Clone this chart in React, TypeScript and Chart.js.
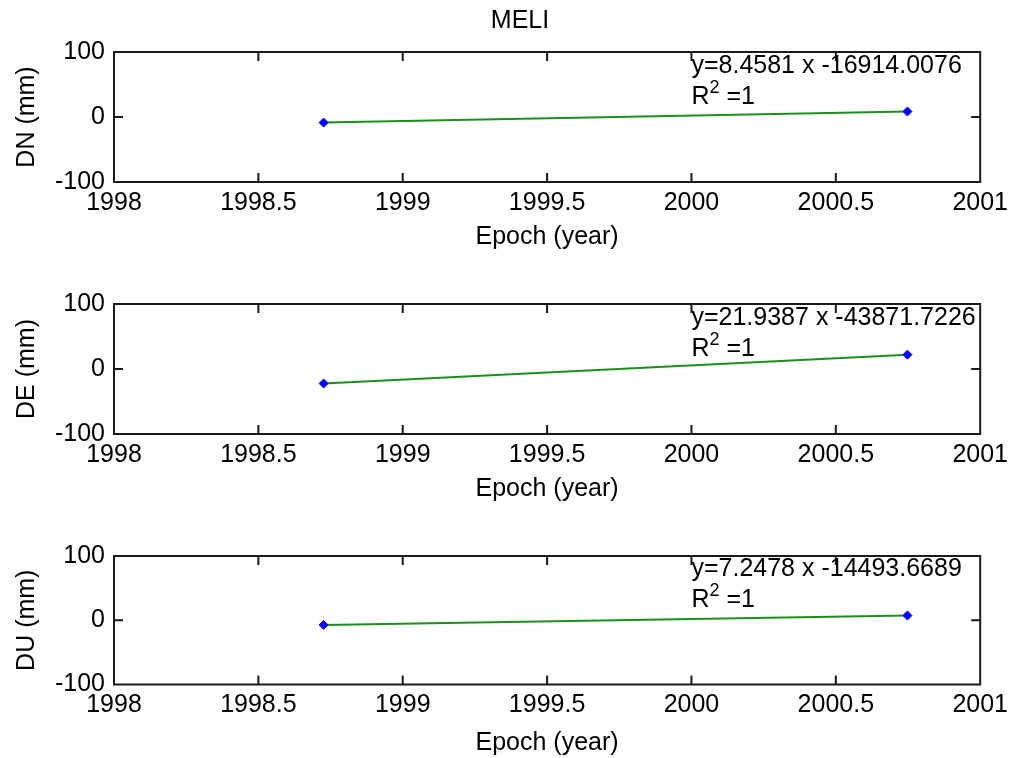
import React, { useEffect, useRef } from "react";
import { Chart, registerables } from "chart.js";

Chart.register(...registerables);

// ---- data ----
const figureTitle = "MELI";
const epochs = [1998.726, 2000.748];
const dnValues = [-8.6, 8.5];
const deValues = [-22.3, 22.1];
const duValues = [-7.3, 7.4];
const panelLabels = ["DN (mm)", "DE (mm)", "DU (mm)"];
const fitEquations = [
  "y=8.4581 x -16914.0076",
  "y=21.9387 x -43871.7226",
  "y=7.2478 x -14493.6689",
];
const rSquaredValues = ["1", "1", "1"];
const xTicks = [1998, 1998.5, 1999, 1999.5, 2000, 2000.5, 2001];
const xTickLabels = ["1998", "1998.5", "1999", "1999.5", "2000", "2000.5", "2001"];
const yTicks = [-100, 0, 100];
const yTickLabels = ["-100", "0", "100"];
const xAxisLabel = "Epoch (year)";

const panelValues = [dnValues, deValues, duValues];

// ---- layout / style ----
const W = 1014;
const FONT_FAMILY = '"Liberation Sans", Arial, Helvetica, sans-serif';
const FONT_SIZE = 25;
const GREEN = "#1a901a";
const BLUE = "#0000ff";
const AXIS_COLOR = "#1a1a1a";
const panels = [
  { top: 0, h: 252, plotTop: 52, plotBottom: 182 },
  { top: 252, h: 252, plotTop: 52, plotBottom: 182 },
  { top: 504, h: 254, plotTop: 52, plotBottom: 180.5 },
];
const PLOT_LEFT = 114;
const PLOT_RIGHT = 983;
const ANNOT_X = 2000;
const ANNOT_Y = 79;
const ANNOT_LINE_GAP = 31;

const axesPlugin = {
  id: "matlabAxes",
  afterDraw(chart: any, _args: any, opts: any) {
    const { ctx, chartArea: a, scales } = chart;
    const x = scales.x;
    const y = scales.y;
    ctx.save();
    ctx.strokeStyle = AXIS_COLOR;
    ctx.lineWidth = 2;
    ctx.strokeRect(a.left, a.top, a.right - a.left, a.bottom - a.top);
    const tl = 9;
    ctx.beginPath();
    xTicks.forEach((v) => {
      const px = x.getPixelForValue(v);
      if (px <= a.left + 1 || px >= a.right - 1) return;
      ctx.moveTo(px, a.bottom);
      ctx.lineTo(px, a.bottom - tl);
      ctx.moveTo(px, a.top);
      ctx.lineTo(px, a.top + tl);
    });
    yTicks.forEach((v) => {
      const py = y.getPixelForValue(v);
      if (py <= a.top + 1 || py >= a.bottom - 1) return;
      ctx.moveTo(a.left, py);
      ctx.lineTo(a.left + tl, py);
      ctx.moveTo(a.right, py);
      ctx.lineTo(a.right - tl, py);
    });
    ctx.stroke();

    // fit annotation
    const tx = x.getPixelForValue(ANNOT_X);
    const ty = y.getPixelForValue(ANNOT_Y);
    ctx.fillStyle = "#000";
    ctx.textAlign = "left";
    ctx.textBaseline = "middle";
    ctx.font = `${FONT_SIZE}px ${FONT_FAMILY}`;
    ctx.fillText(opts.equation, tx, ty);
    const y2 = ty + ANNOT_LINE_GAP;
    ctx.fillText("R", tx, y2);
    let cx = tx + ctx.measureText("R").width;
    ctx.font = `${Math.round(FONT_SIZE * 0.72)}px ${FONT_FAMILY}`;
    ctx.fillText("2", cx, y2 - 9);
    cx += ctx.measureText("2").width;
    ctx.font = `${FONT_SIZE}px ${FONT_FAMILY}`;
    ctx.fillText(" =" + opts.r2, cx, y2);

    if (opts.title) {
      ctx.textAlign = "center";
      ctx.fillText(opts.title, 520, 21);
    }
    ctx.restore();
  },
};

function Panel({ index }: { index: number }) {
  const ref = useRef<HTMLCanvasElement | null>(null);
  const p = panels[index];
  useEffect(() => {
    if (!ref.current) return;
    const vals = panelValues[index];
    const pts = epochs.map((e, i) => ({ x: e, y: vals[i] }));
    const font = { family: FONT_FAMILY, size: FONT_SIZE, lineHeight: 1.2 };
    const chart = new Chart(ref.current, {
      type: "scatter",
      data: {
        datasets: [
          {
            data: pts,
            showLine: true,
            borderColor: GREEN,
            borderWidth: 2,
            pointRadius: 0,
            order: 2,
          },
          {
            data: pts,
            showLine: false,
            pointRadius: 4.5,
            pointStyle: "rectRot",
            pointBackgroundColor: BLUE,
            pointBorderColor: BLUE,
            pointBorderWidth: 1,
            order: 1,
          },
        ],
      },
      options: {
        animation: false,
        responsive: false,
        devicePixelRatio: 1,
        events: [],
        layout: { padding: { top: p.plotTop, right: W - PLOT_RIGHT, left: 0, bottom: 0 } },
        plugins: {
          legend: { display: false },
          tooltip: { enabled: false },
          title: { display: false },
          matlabAxes: {
            equation: fitEquations[index],
            r2: rSquaredValues[index],
            title: index === 0 ? figureTitle : "",
          },
        } as any,
        scales: {
          x: {
            type: "linear",
            min: xTicks[0],
            max: xTicks[xTicks.length - 1],
            grid: { display: false, drawTicks: false },
            border: { display: false },
            afterBuildTicks: (s: any) => {
              s.ticks = xTicks.map((v) => ({ value: v }));
            },
            afterFit: (s: any) => {
              s.height = p.h - p.plotBottom;
            },
            ticks: {
              autoSkip: false,
              maxRotation: 0,
              minRotation: 0,
              padding: 6,
              color: "#000",
              font,
              callback: (_v: any, i: number) => xTickLabels[i],
            },
            title: {
              display: true,
              text: xAxisLabel,
              color: "#000",
              font,
              padding: { top: 0, bottom: 0 },
            },
          },
          y: {
            type: "linear",
            min: yTicks[0],
            max: yTicks[yTicks.length - 1],
            grid: { display: false, drawTicks: false },
            border: { display: false },
            afterBuildTicks: (s: any) => {
              s.ticks = yTicks.map((v) => ({ value: v }));
            },
            afterFit: (s: any) => {
              s.width = PLOT_LEFT;
            },
            ticks: {
              autoSkip: false,
              padding: 9,
              color: "#000",
              font,
              callback: (_v: any, i: number) => yTickLabels[i],
            },
            title: {
              display: true,
              text: panelLabels[index],
              color: "#000",
              font,
              padding: { top: 12, bottom: 0 },
            },
          },
        },
      } as any,
      plugins: [axesPlugin as any],
    });
    return () => chart.destroy();
  }, [index]);
  return (
    <canvas
      ref={ref}
      width={W}
      height={p.h}
      style={{ position: "absolute", left: 0, top: p.top, width: W, height: p.h, display: "block" }}
    />
  );
}

export default function App() {
  return (
    <div
      style={{
        position: "absolute",
        left: 0,
        top: 0,
        width: W,
        height: 758,
        background: "#fff",
        overflow: "hidden",
      }}
    >
      {panels.map((_, i) => (
        <Panel key={i} index={i} />
      ))}
    </div>
  );
}
